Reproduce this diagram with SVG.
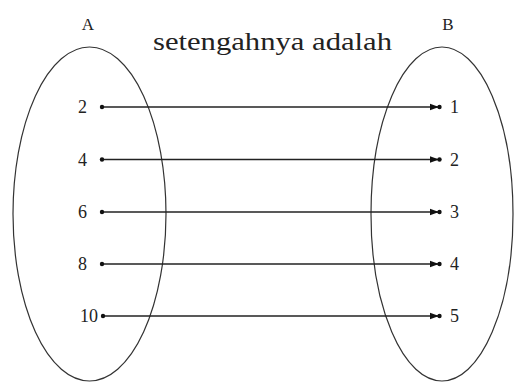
<svg xmlns="http://www.w3.org/2000/svg" width="514" height="385" viewBox="0 0 514 385">
<style>
.set{fill:none;stroke:#333;stroke-width:1.2}
.t{fill:#222}
.num{font-size:18px}
.conn line{stroke:#222;stroke-width:1.4}
.dot{fill:#111}
</style>
<defs>
<marker id="arr" viewBox="0 0 12 8" refX="11" refY="4" markerWidth="12" markerHeight="8" markerUnits="userSpaceOnUse" orient="auto">
<path d="M0,0.8 L9,4 L0,7.2 Z" fill="#111"/>
<circle cx="9.5" cy="4" r="2.2" fill="#111"/>
</marker>
</defs>
<rect width="514" height="385" fill="#fff"/>
<g font-family="'Liberation Serif', 'DejaVu Serif', serif">
<g id="setA">
<ellipse class="set" cx="89.5" cy="214" rx="76.5" ry="167"/>
<text class="t" x="88" y="30" font-size="17" text-anchor="middle">A</text>
<text class="t num" x="87" y="113" text-anchor="end">2</text>
<text class="t num" x="87" y="165.5" text-anchor="end">4</text>
<text class="t num" x="87" y="218" text-anchor="end">6</text>
<text class="t num" x="87" y="270" text-anchor="end">8</text>
<text class="t num" x="98" y="322" text-anchor="end">10</text>
</g>
<g id="setB">
<ellipse class="set" cx="442" cy="214" rx="71" ry="167"/>
<text class="t" x="448" y="30" font-size="17" text-anchor="middle">B</text>
<text class="t num" x="450" y="113">1</text>
<text class="t num" x="450" y="165.5">2</text>
<text class="t num" x="450" y="218">3</text>
<text class="t num" x="450" y="270">4</text>
<text class="t num" x="450" y="322">5</text>
</g>
<g id="title">
<text class="t" x="153" y="50" font-size="26" textLength="239" lengthAdjust="spacingAndGlyphs">setengahnya adalah</text>
</g>
</g>
<g class="conn" id="connectors">
<line x1="102" y1="107" x2="441" y2="107" marker-end="url(#arr)"/>
<line x1="102" y1="159.5" x2="441" y2="159.5" marker-end="url(#arr)"/>
<line x1="102" y1="212" x2="441" y2="212" marker-end="url(#arr)"/>
<line x1="102" y1="264" x2="441" y2="264" marker-end="url(#arr)"/>
<line x1="103" y1="316" x2="441" y2="316" marker-end="url(#arr)"/>
<circle class="dot" cx="102" cy="107" r="2.2"/>
<circle class="dot" cx="102" cy="159.5" r="2.2"/>
<circle class="dot" cx="102" cy="212" r="2.2"/>
<circle class="dot" cx="102" cy="264" r="2.2"/>
<circle class="dot" cx="103" cy="316" r="2.2"/>
</g>
</svg>
